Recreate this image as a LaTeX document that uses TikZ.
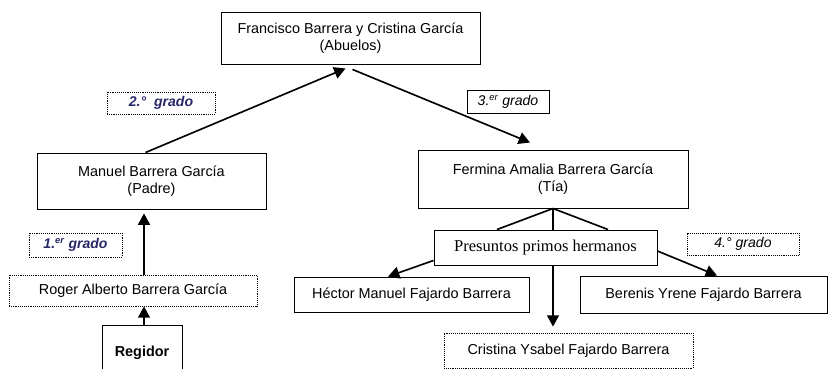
\documentclass[tikz,border=0pt]{standalone}
\usepackage{fontspec}
\setmainfont{Liberation Sans}
\newfontfamily\timesfont{Liberation Serif}
\usetikzlibrary{arrows.meta,calc}
\definecolor{gradoazul}{RGB}{40,40,105}
\newcommand{\px}{0.03cm}

\begin{document}
\begin{tikzpicture}[x=0.03cm,y=-0.03cm,
	caja/.style={draw,line width=0.8pt,inner sep=0pt,align=center,font=\fontsize{12.3}{14.5}\selectfont},
	punteada/.style={caja,dash pattern=on 0.8pt off 0.8pt,line width=0.7pt},
	grado/.style={punteada,font=\fontsize{12}{14}\selectfont\itshape},
	flecha/.style={line width=1.4pt,-{Triangle[length=0.34cm,width=0.36cm]}},
	linea/.style={line width=1.4pt}]
	\useasboundingbox (0,0) rectangle (829,369);
	\clip (0,0) rectangle (829,369);
	% personas
	\node[caja,minimum width=259*\px,minimum height=52*\px] (abuelos) at (350.5,38) {Francisco Barrera y Cristina García\\(Abuelos)};
	\node[caja,minimum width=229*\px,minimum height=56*\px] (manuel) at (151.5,181) {Manuel Barrera García\\(Padre)};
	\node[caja,minimum width=270*\px,minimum height=58*\px] (fermina) at (553,179) {Fermina Amalia Barrera García\\(Tía)};
	\node[punteada,minimum width=248*\px,minimum height=31*\px] (roger) at (133,290.5) {Roger Alberto Barrera García};
	\node[caja,minimum width=80*\px,minimum height=56*\px,font=\fontsize{12.3}{14.5}\selectfont\bfseries] (regidor) at (142,353) {Regidor};
	\node[caja,minimum width=223*\px,minimum height=35*\px,font=\fontsize{14.1}{16}\selectfont\timesfont] (presuntos) at (545.5,247.5) {Presuntos primos hermanos};
	\node[caja,minimum width=235*\px,minimum height=35*\px] (hector) at (411.5,294.5) {Héctor Manuel Fajardo Barrera};
	\node[caja,minimum width=247*\px,minimum height=37*\px] (berenis) at (703.5,294.5) {Berenis Yrene Fajardo Barrera};
	\node[punteada,minimum width=249*\px,minimum height=35*\px] (cristina) at (568.5,350.5) {Cristina Ysabel Fajardo Barrera};
	% grados
	\node[grado,text=gradoazul,font=\fontsize{12}{14}\selectfont\bfseries\itshape,minimum width=108*\px,minimum height=22*\px] (g2) at (161,103) {2.°\ \ grado};
	\node[grado,dash pattern={},minimum width=82*\px,minimum height=23*\px] (g3) at (508,101.5) {3.\textsuperscript{er} grado};
	\node[grado,text=gradoazul,font=\fontsize{12}{14}\selectfont\bfseries\itshape,minimum width=93*\px,minimum height=24*\px] (g1) at (75.5,245) {1.\textsuperscript{er} grado};
	\node[grado,minimum width=112*\px,minimum height=22*\px] (g4) at (743,244) {4.° grado};
	% conectores
	\draw[flecha] (regidor.north -| 144,0) -- (roger.south -| 144,0);
	\draw[flecha,shorten >=0.12cm] (roger.north -| 144,0) -- (manuel.south -| 144,0);
	\draw[flecha] ($(manuel.north)+(-6,0)$) -- ($(abuelos.south)+(-5,4)$);
	\draw[flecha] ($(abuelos.south)+(2,5)$) -- ($(fermina.north)+(-23,-7)$);
	\draw[linea] (fermina.south) -- ($(presuntos.north)+(-48.5,0)$);
	\draw[linea] (fermina.south) -- (fermina.south |- presuntos.north);
	\draw[linea] (fermina.south) -- ($(presuntos.north)+(62.5,0)$);
	\draw[flecha] (fermina.south |- presuntos.south) -- ($(cristina.north -| fermina.south)+(0,-6)$);
	\draw[flecha] ($(presuntos.south west)+(0,-5)$) -- ($(hector.north)+(-23.5,0)$);
	\draw[flecha] ($(presuntos.east)+(0,3.5)$) -- ($(berenis.north)+(13.5,0)$);
\end{tikzpicture}
\end{document}
